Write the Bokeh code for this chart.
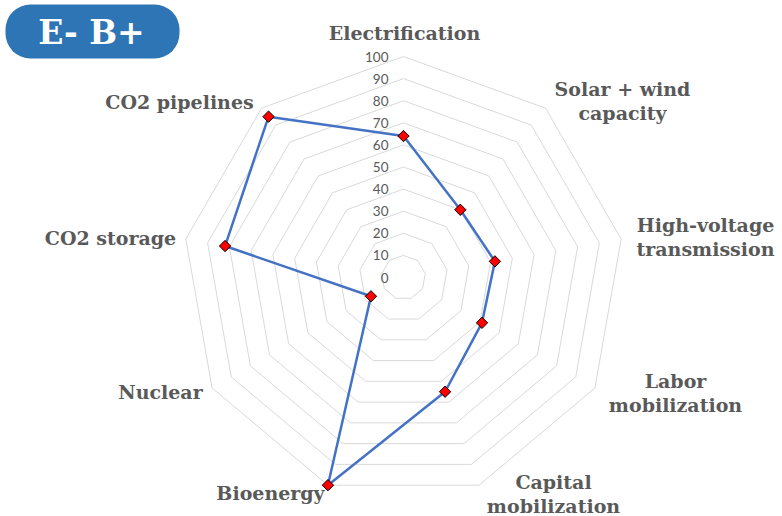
import math
from bokeh.plotting import figure
from bokeh.models import Range1d
from bokeh.core.properties import value
from bokeh.embed import file_html
from bokeh.resources import INLINE

# ---- data ----
categories = ["Electrification", "Solar + wind\ncapacity", "High-voltage\ntransmission",
              "Labor\nmobilization", "Capital\nmobilization", "Bioenergy", "Nuclear",
              "CO2 storage", "CO2 pipelines"]
scores = [64, 40, 42, 41, 55, 100, 17, 82, 95]
ticks = [0, 10, 20, 30, 40, 50, 60, 70, 80, 90, 100]
title_text = "E- B+"

# ---- layout (page pixel coordinates) ----
W, H = 782, 516
CX, CY = 403, 277
R100 = 221.0
label_pos = [(404, 32), (622, 100), (705, 236), (675, 392), (553, 493),
             (270, 492), (160, 391), (110, 237), (179, 101)]
LINE_GAP = 24

p = figure(width=W, height=H, output_backend="svg", toolbar_location=None,
           x_range=Range1d(0, W), y_range=Range1d(H, 0),
           x_axis_location=None, y_axis_location=None, min_border=0)
p.grid.visible = False
p.outline_line_color = None
p.background_fill_color = "white"

n = len(categories)
angles = [math.pi / 2 - 2 * math.pi * i / n for i in range(n)]

def pt(v, a):
    r = v / 100.0 * R100
    return CX + r * math.cos(a), CY - r * math.sin(a)

# rings
xs, ys = [], []
for t in ticks:
    if t == 0:
        continue
    pts = [pt(t, a) for a in angles] + [pt(t, angles[0])]
    xs.append([q[0] for q in pts])
    ys.append([q[1] for q in pts])
p.multi_line(xs, ys, line_color="#D9D9D9", line_width=1)

# tick labels
p.text(x=[388] * len(ticks), y=[CY - t / 100.0 * R100 for t in ticks],
       text=[str(t) for t in ticks], text_align="right", text_baseline="middle",
       text_font=value("Lato"), text_font_size="13.5px", text_color="#595959")

# series
spts = [pt(v, a) for v, a in zip(scores, angles)]
lx = [q[0] for q in spts] + [spts[0][0]]
ly = [q[1] for q in spts] + [spts[0][1]]
p.line(lx, ly, line_color="#4472C4", line_width=2.5)
p.scatter([q[0] for q in spts], [q[1] for q in spts], marker="square", angle=math.pi / 4,
          size=8, fill_color="#FF0000", line_color="black", line_width=1)

# category labels
tx, ty, tt = [], [], []
for cat, (x, y) in zip(categories, label_pos):
    lines = cat.split("\n")
    k = len(lines)
    for j, s in enumerate(lines):
        tx.append(x)
        ty.append(y + (j - (k - 1) / 2) * LINE_GAP)
        tt.append(s)
p.text(x=tx, y=ty, text=tt, text_align="center", text_baseline="middle",
       text_font=value("DejaVu Serif"), text_font_style="bold", text_font_size="19px",
       text_color="#595959")

# title pill
p.quad(left=[5], right=[179], top=[4], bottom=[58], border_radius=25,
       fill_color="#2E75B6", line_color=None)
p.text(x=[91], y=[32], text=[title_text], text_align="center", text_baseline="middle",
       text_font=value("DejaVu Serif"), text_font_style="bold", text_font_size="33px",
       text_color="white")

open("out.html", "w").write(file_html(p, INLINE))
